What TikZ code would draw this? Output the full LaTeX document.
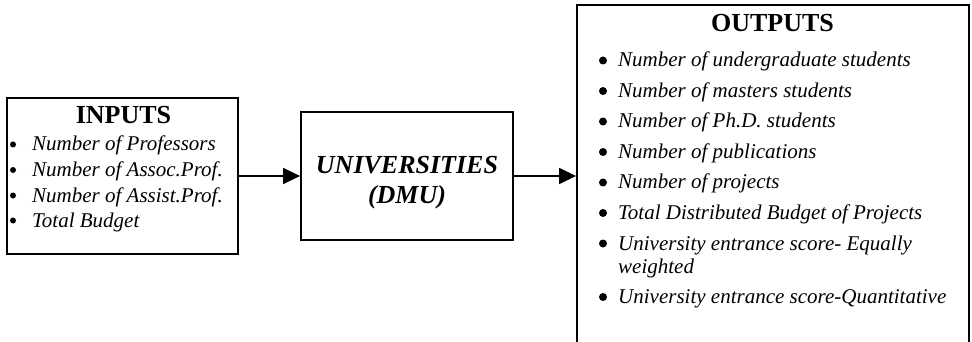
\documentclass[tikz,border=0pt]{standalone}
\usepackage{fontspec}
\setmainfont{Liberation Serif}
\usetikzlibrary{arrows.meta}
\begin{document}
\begin{tikzpicture}[x=1pt,y=-1pt,
  box/.style={draw, line width=1.8pt, inner sep=0pt},
  item/.style={anchor=base west, inner sep=0pt, font=\fontsize{21}{24}\selectfont\itshape},
  ttl/.style={anchor=base, inner sep=0pt, font=\fontsize{26}{30}\selectfont\bfseries},
  dmu/.style={anchor=base, inner sep=0pt, font=\fontsize{26}{30}\selectfont\bfseries\itshape},
  dot/.style={circle, fill, inner sep=0pt, minimum size=#1},
  arr/.style={line width=1.4pt, -{Triangle[length=17pt,width=16pt]}}]
\useasboundingbox (0,0) rectangle (972,342);
\clip (0,0) rectangle (972,342);
% boxes
\node[box, minimum width=231pt, minimum height=156pt] (inbox) at (122.5,176) {};
\node[box, minimum width=212pt, minimum height=128pt] (univ) at (407,176) {};
\node[box, minimum width=392pt, minimum height=341pt] (outbox) at (773,175.5) {};
% inputs
\node[ttl] (intitle) at (123.5,124) {INPUTS};
\node[item] (in1) at (32,151) {Number of Professors};
\node[item] (in2) at (32,176.5) {Number of Assoc.Prof.};
\node[item] (in3) at (32,202) {Number of Assist.Prof.};
\node[item] (in4) at (32,227) {Total Budget};
\node[dot=6pt] (d1) at (13,144.5) {};
\node[dot=6pt] (d2) at (13,170) {};
\node[dot=6pt] (d3) at (13,195.5) {};
\node[dot=6pt] (d4) at (13,220.5) {};
% universities
\node[dmu] (u1) at (407,173) {UNIVERSITIES};
\node[dmu] (u2) at (407,204) {(DMU)};
% outputs
\node[ttl] (outtitle) at (772.5,32) {OUTPUTS};
\node[item] (o1) at (618,67) {Number of undergraduate students};
\node[item] (o2) at (618,97.5) {Number of masters students};
\node[item] (o3) at (618,128) {Number of Ph.D. students};
\node[item] (o4) at (618,158.5) {Number of publications};
\node[item] (o5) at (618,189) {Number of projects};
\node[item] (o6) at (618,219.5) {Total Distributed Budget of Projects};
\node[item] (o7) at (618,250) {University entrance score- Equally};
\node[item] (o7b) at (618,273) {weighted};
\node[item] (o8) at (618,303.5) {University entrance score-Quantitative};
\node[dot=8pt] (e1) at (603,60.5) {};
\node[dot=8pt] (e2) at (603,91) {};
\node[dot=8pt] (e3) at (603,121.5) {};
\node[dot=8pt] (e4) at (603,152) {};
\node[dot=8pt] (e5) at (603,182.5) {};
\node[dot=8pt] (e6) at (603,213) {};
\node[dot=8pt] (e7) at (603,243.5) {};
\node[dot=8pt] (e8) at (603,297) {};
% connectors
\draw[arr] (inbox.east) -- (univ.west);
\draw[arr] (univ.east) -- (univ.east -| outbox.west);
\end{tikzpicture}
\end{document}
